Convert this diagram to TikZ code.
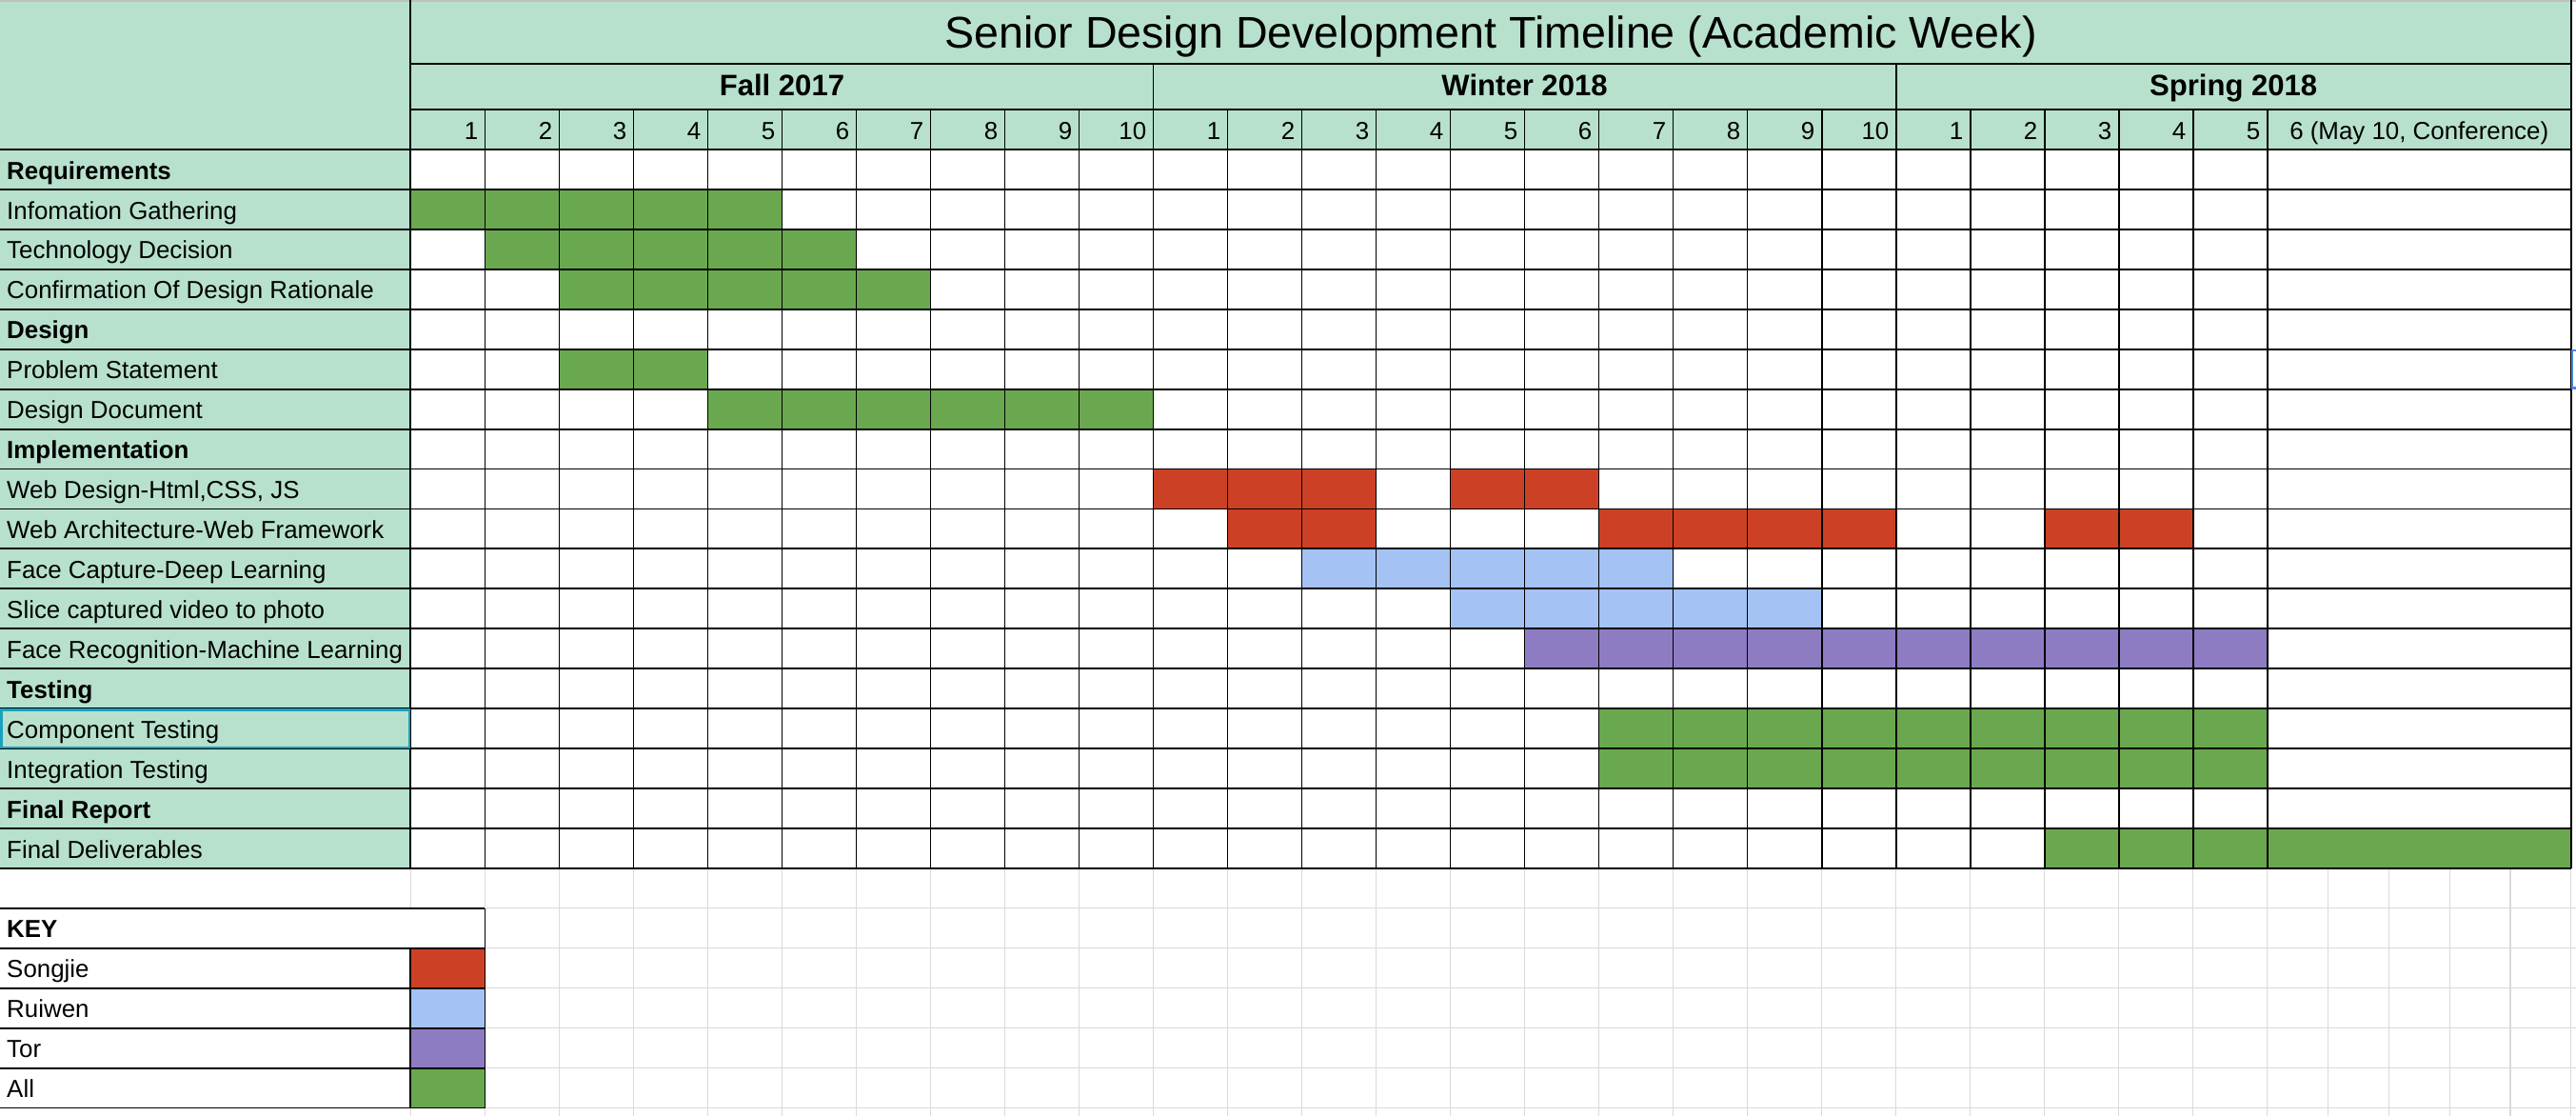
\documentclass[tikz,border=0pt]{standalone}
\usepackage{fontspec}
\setmainfont{Liberation Sans}
\definecolor{hdr}{HTML}{B7E1CD}
\definecolor{allg}{HTML}{6AA84F}
\definecolor{songred}{HTML}{CC4125}
\definecolor{ruiblue}{HTML}{A4C2F4}
\definecolor{torpur}{HTML}{8E7CC3}
\definecolor{gline}{HTML}{DADADA}
\definecolor{selcol}{HTML}{1BA1BE}
\definecolor{markblue}{HTML}{4A86E8}
\definecolor{topband}{HTML}{C0C0C0}
\newcommand\gcell[4]{%
  \pgfmathsetmacro\xa{250+45.2*(#3-1)}%
  \pgfmathsetmacro\xb{ifthenelse(#4==26,1565,250+45.2*#4)}%
  \pgfmathsetmacro\ya{91+24.3*(#2-1)}%
  \pgfmathsetmacro\yb{91+24.3*#2}%
  \fill[#1] (\xa,\ya) rectangle (\xb,\yb);}
\begin{document}
\begin{tikzpicture}[x=1pt,y=-1pt,
  grid/.style={line width=1.1pt, black},
  ggrid/.style={line width=0.7pt, color=gline},
  lbl/.style={anchor=base west, inner sep=0pt, font=\fontsize{15}{18}\selectfont},
  wk/.style={anchor=base east, inner sep=0pt, font=\fontsize{15}{18}\selectfont},
  sem/.style={anchor=base, inner sep=0pt, font=\fontsize{18}{22}\selectfont\bfseries},
  ttl/.style={anchor=base, inner sep=0pt, font=\fontsize{27}{32}\selectfont},
]
\useasboundingbox (0,0) rectangle (1568,679);
\fill[white] (0,0) rectangle (1568,679);
\fill[hdr] (0,0) rectangle (1565,91);
\fill[hdr] (0,91) rectangle (250,528.4);
\fill[topband] (0,0) rectangle (1568,1.2);

% coloured task cells
\gcell{allg}{2}{1}{5}
\gcell{allg}{3}{2}{6}
\gcell{allg}{4}{3}{7}
\gcell{allg}{6}{3}{4}
\gcell{allg}{7}{5}{10}
\gcell{songred}{9}{11}{13}
\gcell{songred}{9}{15}{16}
\gcell{songred}{10}{12}{13}
\gcell{songred}{10}{17}{20}
\gcell{songred}{10}{23}{24}
\gcell{ruiblue}{11}{13}{17}
\gcell{ruiblue}{12}{15}{19}
\gcell{torpur}{13}{16}{25}
\gcell{allg}{15}{17}{25}
\gcell{allg}{16}{17}{25}
\gcell{allg}{18}{23}{26}

% light spreadsheet grid below the table
\foreach \k in {1,...,25} \draw[ggrid] ({250+45.2*\k},528.4) -- ({250+45.2*\k},679);
\foreach \xx in {1417,1454,1491,1528,1565} \draw[ggrid] (\xx,528.4) -- (\xx,679);
\foreach \k in {1,...,6} \draw[ggrid] (295.2,{528.4+24.3*\k}) -- (1568,{528.4+24.3*\k});
\draw[ggrid] (250,528.4) -- (250,552.7);
\draw[ggrid] (250,674.2) -- (250,679);

% black table grid
\foreach \k in {0,...,18} \draw[grid] (0,{91+24.3*\k}) -- (1565,{91+24.3*\k});
\foreach \k in {0,...,25} \draw[grid] ({250+45.2*\k},66.6) -- ({250+45.2*\k},528.4);
\draw[grid] (1565,0) -- (1565,528.4);
\draw[grid] (250,0) -- (250,91);
\foreach \xx in {702,1154} \draw[grid] (\xx,38.6) -- (\xx,66.6);
\draw[grid] (250,38.6) -- (1565,38.6);
\draw[grid] (250,66.6) -- (1565,66.6);

% header texts
\node[ttl] (title) at (907.5,29) {Senior Design Development Timeline (Academic Week)};
\node[sem] (fall) at (476,58.3) {Fall 2017};
\node[sem] (winter) at (928,58.3) {Winter 2018};
\node[sem] (spring) at (1359.5,58.3) {Spring 2018};
\foreach \c in {1,...,25}{
  \pgfmathtruncatemacro\n{\c<=10 ? \c : (\c<=20 ? \c-10 : \c-20)}
  \node[wk] (wk\c) at ({250+45.2*\c-4},85) {\n};
}
\node[wk, anchor=base] (wk26) at (1472.5,85) {6 (May 10, Conference)};

% row labels
\foreach \f/\t [count=\r] in {\bfseries/Requirements, \mdseries/Infomation Gathering,
  \mdseries/Technology Decision, \mdseries/Confirmation Of Design Rationale,
  \bfseries/Design, \mdseries/Problem Statement, \mdseries/Design Document,
  \bfseries/Implementation, \mdseries/{Web Design-Html,CSS, JS},
  \mdseries/Web Architecture-Web Framework, \mdseries/Face Capture-Deep Learning,
  \mdseries/Slice captured video to photo, \mdseries/Face Recognition-Machine Learning,
  \bfseries/Testing, \mdseries/Component Testing, \mdseries/Integration Testing,
  \bfseries/Final Report, \mdseries/Final Deliverables}
  \node[lbl] (lab\r) at (4,{91+24.3*\r-6.3}) {\f\t};

% selected cell and side marker
\draw[selcol, line width=1.3pt] (0.9,432.0) rectangle (249.1,454.7);
\draw[markblue, line width=1.6pt] (1568,213.3) -- (1565.6,213.3) -- (1565.6,236) -- (1568,236);

% key
\fill[songred] (250,577) rectangle (295.2,601.3);
\fill[ruiblue] (250,601.3) rectangle (295.2,625.6);
\fill[torpur] (250,625.6) rectangle (295.2,649.9);
\fill[allg] (250,649.9) rectangle (295.2,674.2);
\foreach \k in {0,...,5} \draw[grid] (0,{552.7+24.3*\k}) -- (295.2,{552.7+24.3*\k});
\draw[grid] (295.2,552.7) -- (295.2,674.2);
\draw[grid] (250,577) -- (250,674.2);
\node[lbl, font=\fontsize{15}{18}\selectfont\bfseries] (keyhead) at (4,570.7) {KEY};
\node[lbl] (keysong) at (4,595.0) {Songjie};
\node[lbl] (keyrui) at (4,619.3) {Ruiwen};
\node[lbl] (keytor) at (4,643.6) {Tor};
\node[lbl] (keyall) at (4,667.9) {All};
\end{tikzpicture}
\end{document}
